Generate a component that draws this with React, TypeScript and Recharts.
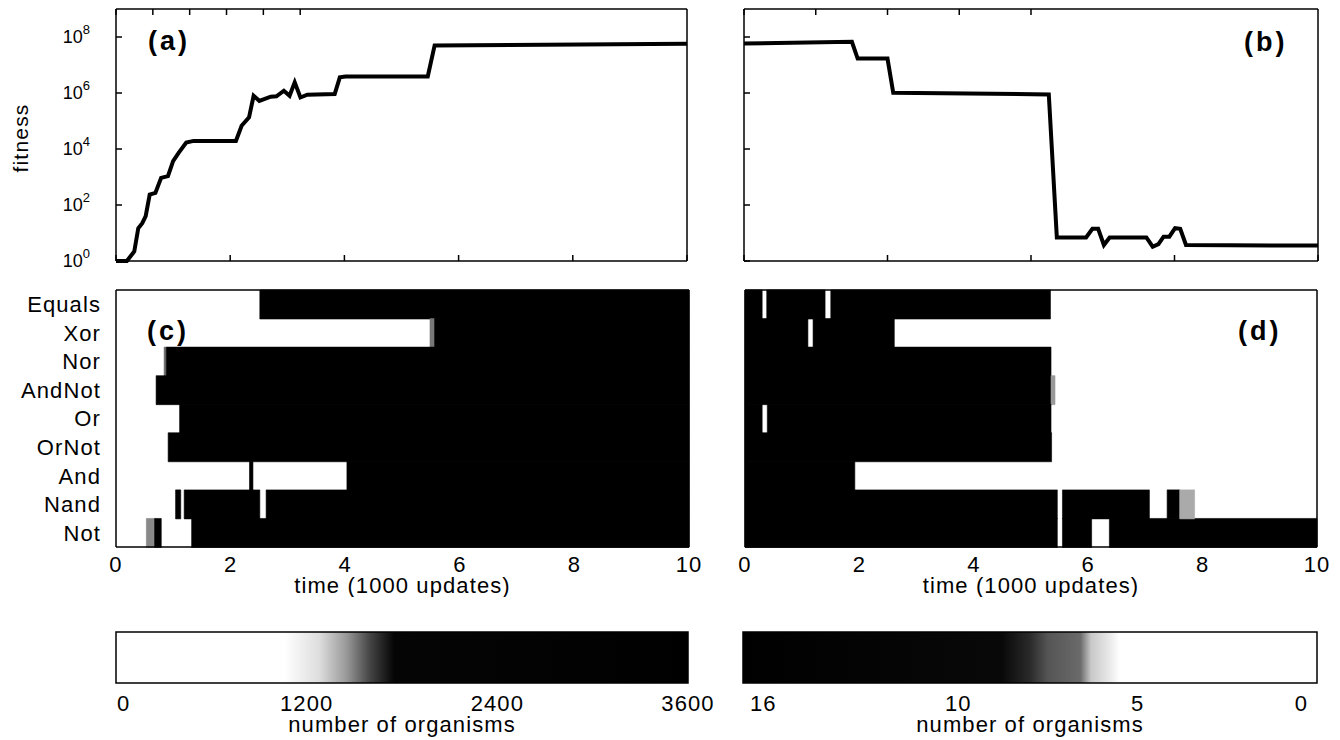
import React from 'react';
import { LineChart, Line, XAxis, YAxis, BarChart, Bar, Cell } from 'recharts';

const FONT = '"Liberation Sans", Arial, Helvetica, sans-serif';

// (a) fitness over time, log10(fitness), time in 1000 updates
const timeA = [0, 0.19, 0.32, 0.39, 0.46, 0.52, 0.59, 0.69, 0.79, 0.91, 1.0, 1.1, 1.23, 1.36, 2.1, 2.2, 2.33, 2.41, 2.51, 2.71, 2.81, 2.94, 3.04, 3.13, 3.23, 3.35, 3.83, 3.92, 4.02, 5.46, 5.58, 10];
const logFitA = [0, 0, 0.34, 1.17, 1.35, 1.6, 2.37, 2.43, 2.97, 3.03, 3.57, 3.87, 4.23, 4.29, 4.29, 4.83, 5.13, 5.9, 5.72, 5.87, 5.88, 6.08, 5.9, 6.38, 5.84, 5.94, 5.96, 6.56, 6.59, 6.59, 7.7, 7.76];

// (b)
const timeB = [0, 1.88, 1.98, 2.5, 2.6, 5.31, 5.45, 5.96, 6.07, 6.17, 6.27, 6.37, 7.01, 7.12, 7.22, 7.31, 7.41, 7.51, 7.6, 7.7, 10];
const logFitB = [7.77, 7.83, 7.23, 7.23, 6.01, 5.95, 0.84, 0.84, 1.15, 1.15, 0.57, 0.84, 0.84, 0.51, 0.6, 0.87, 0.87, 1.17, 1.15, 0.57, 0.55];

const fitnessTicks = [0, 2, 4, 6, 8];
const timeTicksA = [0, 2, 4, 6, 8, 10];
const timeTicksB = [0, 2.5, 5, 7.5, 10];
const timeTicks = [0, 2, 4, 6, 8, 10];

const tasks = ['Equals', 'Xor', 'Nor', 'AndNot', 'Or', 'OrNot', 'And', 'Nand', 'Not'];

// task performed: [start, end, shade]  (shade left out = black)
const blocksC: any[][] = [
  [[2.51, 10]],
  [[5.48, 5.56, '#777'], [5.56, 10]],
  [[0.84, 0.88, '#666'], [0.88, 10]],
  [[0.7, 10]],
  [[1.11, 10]],
  [[0.91, 10]],
  [[2.33, 2.39], [4.03, 10]],
  [[1.04, 1.13], [1.19, 2.51], [2.62, 10]],
  [[0.53, 0.66, '#888'], [0.67, 0.79], [1.32, 10]],
];
const blocksD: any[][] = [
  [[0, 0.3], [0.38, 1.4], [1.5, 5.34]],
  [[0, 1.1], [1.19, 2.61]],
  [[0, 5.35]],
  [[0, 5.35], [5.35, 5.42, '#999']],
  [[0, 0.3], [0.39, 5.35]],
  [[0, 5.36]],
  [[0, 1.92]],
  [[0, 5.46], [5.55, 7.07], [7.38, 7.6], [7.6, 7.86, '#aaa']],
  [[0, 5.46], [5.55, 6.06], [6.37, 10]],
];

// colour bars: number of organisms -> grey
const countTicksC = [0, 1200, 2400, 3600];
const shadeCountsC = [0, 1060, 1280, 1450, 1600, 1750, 3600];
const shadeGrayC = ['#fff', '#fff', '#ddd', '#999', '#444', '#050505', '#000'];

const countTicksD = [16, 10, 5, 0];
const shadeCountsD = [16, 8.8, 8.0, 7.5, 6.6, 6.3, 5.8, 5.5, 0];
const shadeGrayD = ['#000', '#080808', '#2a2a2a', '#555', '#6a6a6a', '#c8c8c8', '#e8e8e8', '#fff', '#fff'];

const axisStyle = { stroke: '#000', strokeWidth: 1.5 };
const TXT = { fontFamily: FONT, fontSize: 22, fill: '#000', letterSpacing: 1.1 };

// inward (matlab style) tick mark, optional label
const InTick = (props: any) => {
  const { x, y, payload, side, power } = props;
  const d = 6;
  let line;
  if (side === 'bottom') line = <line x1={x} y1={y} x2={x} y2={y - d} stroke="#000" strokeWidth={1.5} />;
  else if (side === 'top') line = <line x1={x} y1={y} x2={x} y2={y + d} stroke="#000" strokeWidth={1.5} />;
  else if (side === 'left') line = <line x1={x} y1={y} x2={x + d} y2={y} stroke="#000" strokeWidth={1.5} />;
  else line = <line x1={x} y1={y} x2={x - d} y2={y} stroke="#000" strokeWidth={1.5} />;
  return (
    <g>
      {line}
      {power && (
        <text x={x - 26} y={y + 6} textAnchor="end" fontFamily={FONT} fontSize={18} fill="#000">
          10<tspan dy={-9} fontSize={13}>{payload.value}</tspan>
        </text>
      )}
    </g>
  );
};

const TextTick = (props: any) => {
  const { x, y, payload, anchor, vertical } = props;
  return (
    <text x={x} y={y} dy={vertical ? '0.36em' : '0.71em'} textAnchor={anchor || 'middle'} {...TXT}>
      {payload.value}
    </text>
  );
};

function FitnessPanel({ time, logFit, xTicks, left, ml, mr, showY }: any) {
  const data = time.map((t: number, i: number) => ({ t, f: logFit[i] }));
  return (
    <div style={{ position: 'absolute', left, top: 0 }}>
      <LineChart width={700} height={275} data={data} margin={{ top: 8, right: mr, bottom: 0, left: ml }}>
        <XAxis dataKey="t" type="number" domain={[0, 10]} ticks={xTicks} tick={<InTick side="bottom" />} tickLine={false} tickSize={0} tickMargin={0} height={14} axisLine={axisStyle} />
        <XAxis xAxisId="top" orientation="top" type="number" domain={[0, 10]} ticks={xTicks} tick={<InTick side="top" />} tickLine={false} tickSize={0} tickMargin={0} height={1} axisLine={axisStyle} />
        <YAxis
          type="number"
          domain={[0, 9]}
          ticks={fitnessTicks}
          width={showY ? 116 : 1}
          tick={<InTick side="left" power={showY} />}
          tickLine={false}
          tickSize={0}
          tickMargin={0}
          axisLine={axisStyle}
          label={
            showY
              ? {
                  content: () => (
                    <text x={20} y={138} transform="rotate(-90, 20, 138)" textAnchor="middle" dy="0.36em" fontFamily={FONT} fontSize={21} fill="#000" letterSpacing={1.2}>
                      fitness
                    </text>
                  ),
                }
              : undefined
          }
        />
        <YAxis yAxisId="right" orientation="right" type="number" domain={[0, 9]} ticks={fitnessTicks} tick={<InTick side="right" />} tickLine={false} tickSize={0} tickMargin={0} width={1} axisLine={axisStyle} />
        <Line dataKey="f" type="linear" stroke="#000" strokeWidth={4} dot={false} isAnimationActive={false} />
      </LineChart>
    </div>
  );
}

function TaskPanel({ blocks, left, ml, mr, showNames }: any) {
  const maxBlocks = Math.max(...blocks.map((b: any[]) => b.length));
  const rows = tasks.map((task, r) => {
    const row: any = { task };
    let prev = 0;
    for (let j = 0; j < maxBlocks; j++) {
      const b = blocks[r][j];
      row[`g${j}`] = b ? b[0] - prev : 0;
      row[`b${j}`] = b ? b[1] - b[0] : 0;
      if (b) prev = b[1];
    }
    return row;
  });
  const bars = [];
  for (let j = 0; j < maxBlocks; j++) {
    bars.push(<Bar key={`g${j}`} dataKey={`g${j}`} stackId="s" fill="transparent" isAnimationActive={false} />);
    bars.push(
      <Bar key={`b${j}`} dataKey={`b${j}`} stackId="s" isAnimationActive={false}>
        {tasks.map((t, r) => {
          const b = blocks[r][j];
          const c = b && b[2] ? b[2] : '#000';
          return <Cell key={t} fill={c} stroke={c} strokeWidth={0.6} />;
        })}
      </Bar>
    );
  }
  return (
    <div style={{ position: 'absolute', left, top: 280 }}>
      <BarChart layout="vertical" width={720} height={317} data={rows} margin={{ top: 9, right: mr, bottom: 0, left: ml }} barCategoryGap={0} barGap={0}>
        <XAxis
          type="number"
          domain={[0, 10]}
          ticks={timeTicks}
          tickLine={false}
          tickSize={0}
          tickMargin={9}
          height={50}
          axisLine={axisStyle}
          tick={<TextTick />}
          label={{
            content: (p: any) => {
              const vb = p.viewBox || {};
              return (
                <text x={vb.x + vb.width / 2} y={vb.y + 46} textAnchor="middle" {...TXT}>
                  time (1000 updates)
                </text>
              );
            },
          }}
        />
        <XAxis xAxisId="top" orientation="top" type="number" domain={[0, 10]} tick={false} tickLine={false} height={1} axisLine={axisStyle} />
        <YAxis
          type="category"
          dataKey="task"
          interval={0}
          width={showNames ? 116 : 1}
          tick={showNames ? <TextTick anchor="end" vertical /> : false}
          tickLine={false}
          tickSize={0}
          tickMargin={15}
          axisLine={axisStyle}
        />
        <YAxis yAxisId="right" orientation="right" type="number" domain={[0, 1]} width={1} tick={false} tickLine={false} axisLine={axisStyle} />
        {bars}
      </BarChart>
    </div>
  );
}

function ColorBar({ id, left, ml, mr, max, ticks, reversed, counts, grays, tickAnchor }: any) {
  const data = [{ name: 'organisms', n: max }];
  const stops = counts
    .map((c: number, i: number) => ({ offset: reversed ? (max - c) / max : c / max, color: grays[i] }))
    .sort((a: any, b: any) => a.offset - b.offset);
  const ColorTick = (props: any) => {
    const { x, y, payload } = props;
    const [anchor, dx] = tickAnchor(payload.value);
    return (
      <text x={x + dx} y={y} dy="0.71em" textAnchor={anchor} {...TXT}>
        {payload.value}
      </text>
    );
  };
  return (
    <div style={{ position: 'absolute', left, top: 620 }}>
      <BarChart layout="vertical" width={730} height={120} data={data} margin={{ top: 12, right: mr, bottom: 0, left: ml }} barCategoryGap={0}>
        <defs>
          <linearGradient id={id} x1="0" y1="0" x2="1" y2="0">
            {stops.map((s: any, i: number) => (
              <stop key={i} offset={s.offset} stopColor={s.color} />
            ))}
          </linearGradient>
        </defs>
        <XAxis
          type="number"
          domain={[0, max]}
          reversed={reversed}
          ticks={ticks}
          axisLine={false}
          tickLine={false}
          tickSize={0}
          tickMargin={12}
          height={57}
          tick={<ColorTick />}
          label={{
            content: (p: any) => {
              const vb = p.viewBox || {};
              return (
                <text x={vb.x + vb.width / 2} y={vb.y + 49} textAnchor="middle" {...TXT}>
                  number of organisms
                </text>
              );
            },
          }}
        />
        <YAxis type="category" dataKey="name" hide />
        <Bar dataKey="n" fill={`url(#${id})`} stroke="#000" strokeWidth={1.5} isAnimationActive={false} />
      </BarChart>
    </div>
  );
}

const panelLabel = (text: string, left: number, top: number) => (
  <div style={{ position: 'absolute', left, top, fontFamily: FONT, fontWeight: 'bold', fontSize: 27, letterSpacing: 3, lineHeight: 1 }}>
    {text}
  </div>
);

export default function App() {
  return (
    <div style={{ position: 'absolute', left: 0, top: 0, width: 1340, height: 740, background: '#fff', overflow: 'hidden' }}>
      <FitnessPanel time={timeA} logFit={logFitA} xTicks={timeTicksA} left={0} ml={0} mr={12} showY />
      <FitnessPanel time={timeB} logFit={logFitB} xTicks={timeTicksB} left={630} ml={113} mr={11} showY={false} />
      <TaskPanel blocks={blocksC} left={0} ml={0} mr={30} showNames />
      <TaskPanel blocks={blocksD} left={630} ml={114} mr={32} showNames={false} />
      <ColorBar id="cbC" left={0} ml={116} mr={42} max={3600} ticks={countTicksC} reversed={false} counts={shadeCountsC} grays={shadeGrayC}
        tickAnchor={(v: number) => (v === 0 ? ['start', 1] : ['middle', 0])} />
      <ColorBar id="cbD" left={630} ml={113} mr={43} max={16} ticks={countTicksD} reversed counts={shadeCountsD} grays={shadeGrayD}
        tickAnchor={(v: number) => (v === 16 ? ['start', 7] : v === 0 ? ['end', -9] : ['middle', 0])} />
      {panelLabel('(a)', 148, 28)}
      {panelLabel('(b)', 1244, 29)}
      {panelLabel('(c)', 147, 318)}
      {panelLabel('(d)', 1238, 318)}
    </div>
  );
}
